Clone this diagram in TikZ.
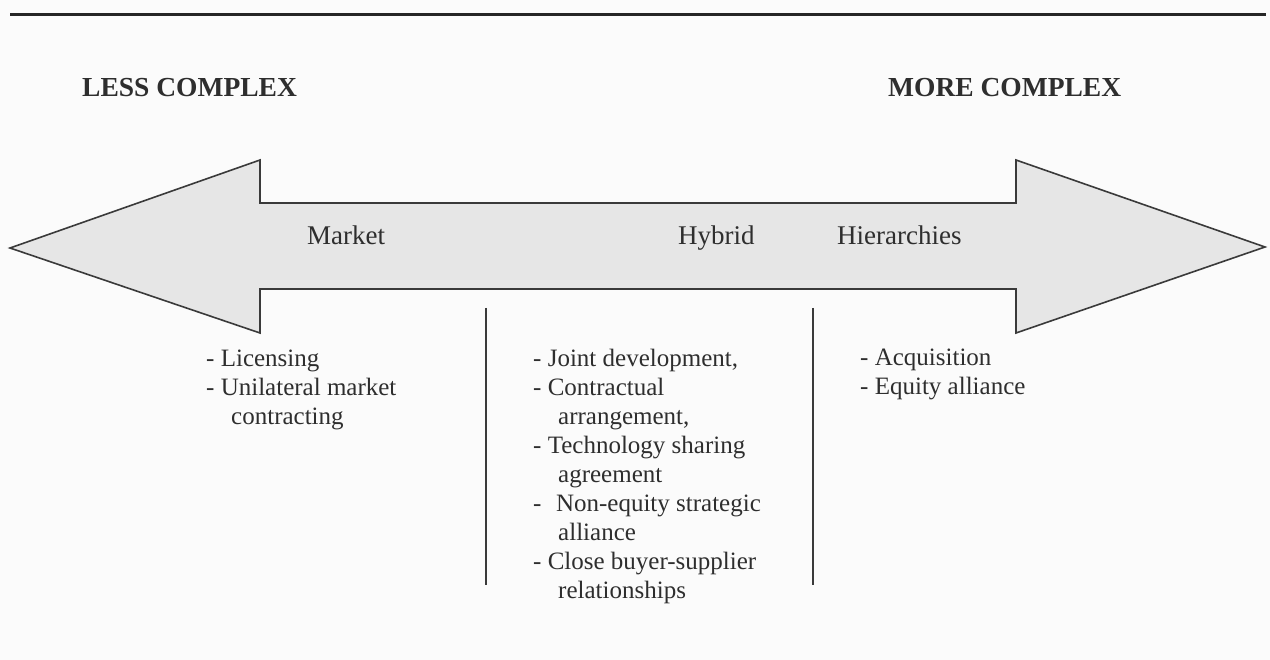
\documentclass[tikz,border=0pt]{standalone}
\usepackage{fontspec}
\setmainfont{Liberation Serif}
\definecolor{pagebg}{HTML}{FBFBFB}
\definecolor{arrowfill}{HTML}{E6E6E6}
\definecolor{edgegrey}{HTML}{3A3A3A}
\definecolor{inkgrey}{HTML}{2E2E2E}
\begin{document}
\begin{tikzpicture}[x=1pt,y=-1pt,
  heading/.style={anchor=base west, inner sep=0pt, text=inkgrey,
    font=\fontsize{27.5}{33}\selectfont\bfseries},
  formlabel/.style={anchor=base west, inner sep=0pt, text=inkgrey,
    font=\fontsize{27}{32}\selectfont},
  listtext/.style={anchor=north west, inner sep=0pt, align=left, text=inkgrey,
    font=\fontsize{25}{29}\selectfont},
  divider/.style={draw=edgegrey, line width=1.8pt},
  rule/.style={draw=black!85, line width=3pt}
]
  % page
  \fill[pagebg] (0,0) rectangle (1270,660);
  \useasboundingbox (0,0) rectangle (1270,660);

  % top rule
  \coordinate (ruleL) at (10,15);
  \coordinate (ruleR) at (1266,15);
  \draw[rule] (ruleL) -- (ruleR);

  % headings
  \node[heading] (less) at (82,97) {LESS COMPLEX};
  \node[heading] (more) at (888,97) {MORE COMPLEX};

  % double-headed block arrow
  \draw[fill=arrowfill, draw=edgegrey, line width=1.6pt, line join=miter]
    (10,248) -- (260,160) -- (260,203) -- (1016,203) -- (1016,160)
    -- (1265,247) -- (1016,333) -- (1016,289) -- (260,289) -- (260,333)
    -- cycle;

  % governance forms
  \node[formlabel] (market) at (307,245) {Market};
  \node[formlabel] (hybrid) at (678,245) {Hybrid};
  \node[formlabel] (hier) at (837,245) {Hierarchies};

  % column dividers
  \coordinate (d1top) at (486,308);
  \coordinate (d1bot) at (486,585);
  \coordinate (d2top) at (813,308);
  \coordinate (d2bot) at (813,585);
  \draw[divider] (d1top) -- (d1bot);
  \draw[divider] (d2top) -- (d2bot);

  % examples per form
  \node[listtext] (marketlist) at (206,345.7) {%
    \strut- Licensing\\
    \strut- Unilateral market\\
    \strut\hspace*{25pt}contracting};
  \node[listtext] (hybridlist) at (533,345.7) {%
    \strut- Joint development,\\
    \strut- Contractual\\
    \strut\hspace*{25pt}arrangement,\\
    \strut- Technology sharing\\
    \strut\hspace*{25pt}agreement\\
    \strut-\hspace*{14.5pt}Non-equity strategic\\
    \strut\hspace*{25pt}alliance\\
    \strut- Close buyer-supplier\\
    \strut\hspace*{25pt}relationships};
  \node[listtext] (hierlist) at (860,344.7) {%
    \strut- Acquisition\\
    \strut- Equity alliance};
\end{tikzpicture}
\end{document}
